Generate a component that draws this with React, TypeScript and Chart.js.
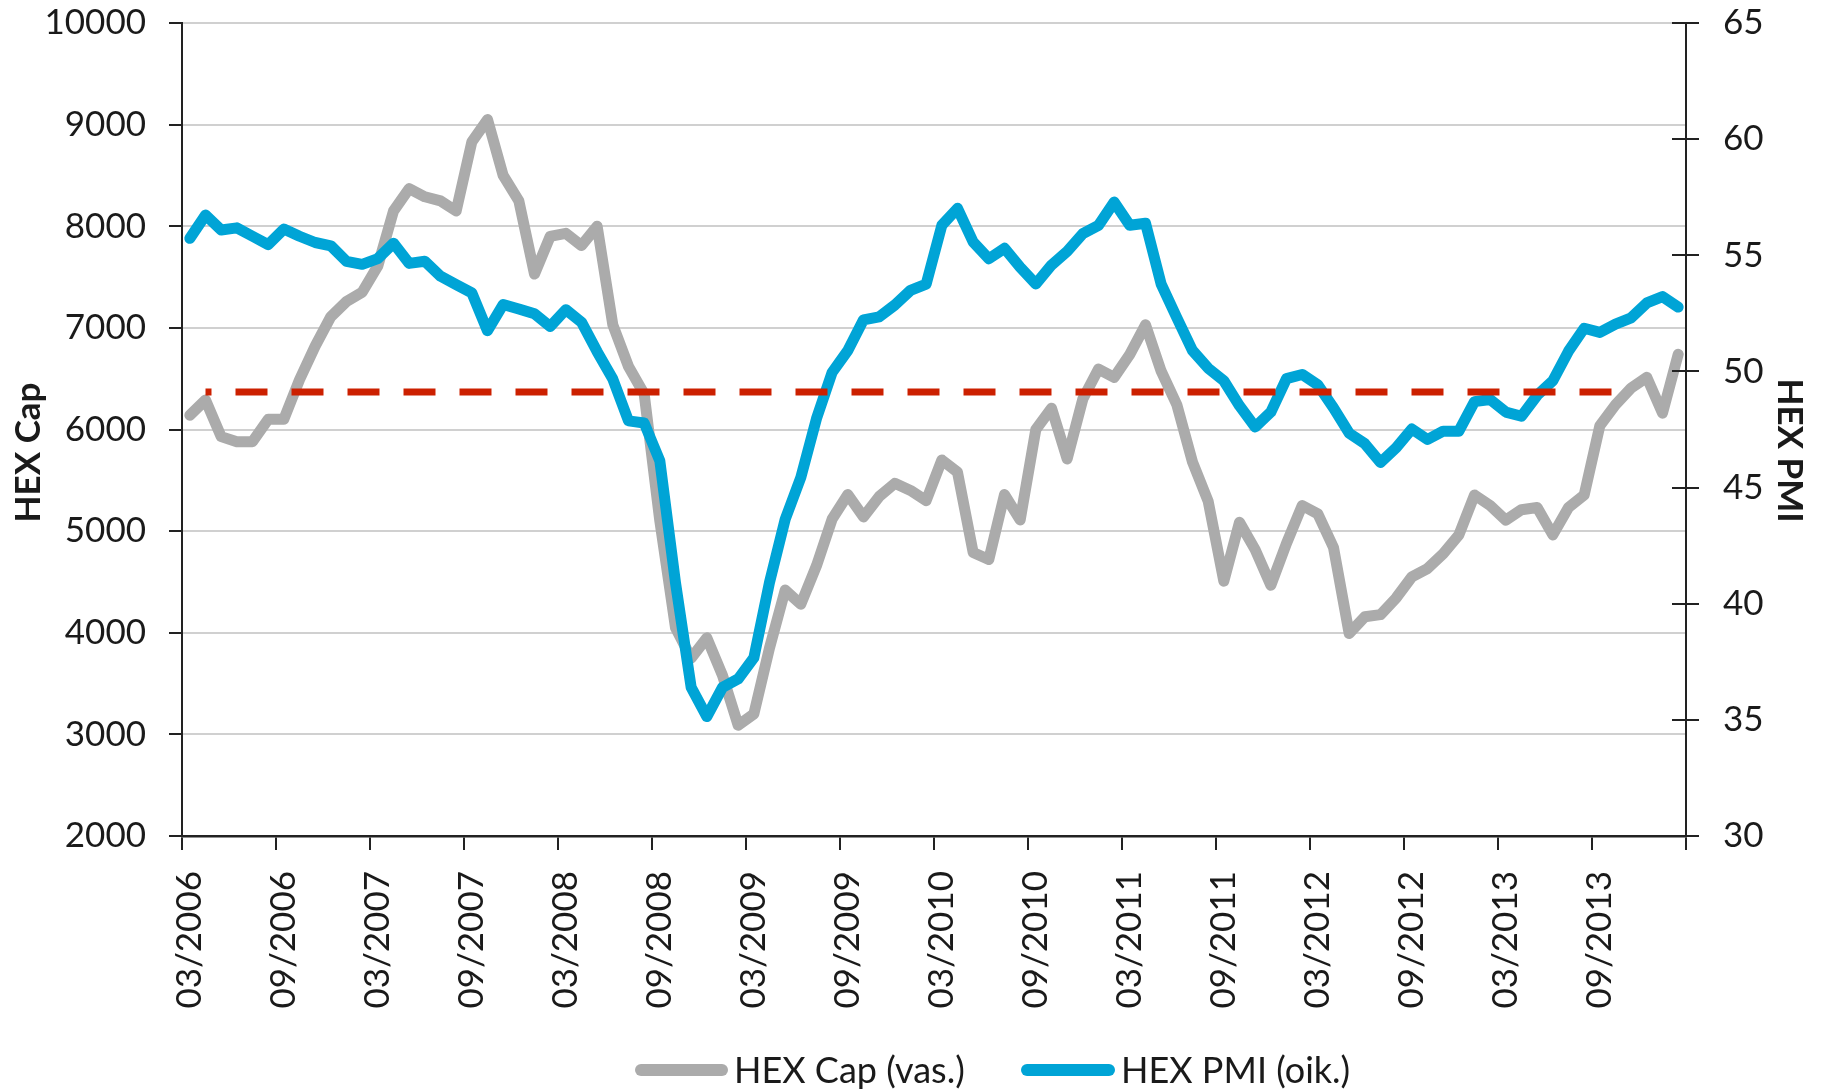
import React, { useEffect, useRef } from "react";
import { Chart, registerables } from "chart.js";

Chart.register(...registerables);

// Monthly categories 03/2006 .. 02/2014
const START_YEAR = 2006;
const START_MONTH = 3;
const N_MONTHS = 96;
const months: string[] = [];
for (let i = 0; i < N_MONTHS; i++) {
  const m = ((START_MONTH - 1 + i) % 12) + 1;
  const y = START_YEAR + Math.floor((START_MONTH - 1 + i) / 12);
  months.push(String(m).padStart(2, "0") + "/" + y);
}

const hexCap: number[] = [
  6140, 6290, 5930, 5880, 5880, 6100, 6100, 6490, 6820, 7110, 7260, 7350,
  7610, 8150, 8370, 8290, 8250, 8150, 8830, 9050, 8500, 8250, 7530, 7900,
  7930, 7810, 8000, 7030, 6620, 6350, 5100, 4050, 3750, 3950, 3580, 3090,
  3200, 3850, 4420, 4280, 4660, 5120, 5360, 5140, 5340, 5470, 5400, 5300,
  5700, 5580, 4790, 4720, 5360, 5110, 6000, 6210, 5710, 6300, 6595, 6513,
  6740, 7030, 6574, 6244, 5680, 5294, 4508, 5087, 4818, 4467, 4880, 5252,
  5170, 4839, 3992, 4157, 4178, 4343, 4550, 4632, 4777, 4963, 5356, 5252,
  5108, 5211, 5232, 4963, 5232, 5356, 6037, 6244, 6409, 6513, 6161, 6740,
];

const hexPmi: number[] = [
  55.73, 56.73, 56.09, 56.18, 55.82, 55.46, 56.13, 55.82, 55.55, 55.41, 54.74, 54.61,
  54.86, 55.52, 54.65, 54.74, 54.1, 53.74, 53.38, 51.75, 52.88, 52.69, 52.48, 51.93,
  52.66, 52.12, 50.85, 49.67, 47.87, 47.78, 46.15, 40.9, 36.4, 35.14, 36.4, 36.76,
  37.67, 40.92, 43.63, 45.44, 47.97, 49.96, 50.9, 52.22, 52.35, 52.86, 53.49, 53.76,
  56.29, 57.02, 55.57, 54.85, 55.3, 54.48, 53.76, 54.58, 55.17, 55.93, 56.29, 57.29,
  56.29, 56.38, 53.76, 52.31, 50.9, 50.14, 49.6, 48.52, 47.61, 48.25, 49.69, 49.87,
  49.42, 48.43, 47.34, 46.89, 46.08, 46.71, 47.52, 47.07, 47.43, 47.43, 48.7, 48.79,
  48.25, 48.07, 48.97, 49.6, 50.87, 51.86, 51.68, 52.04, 52.31, 52.95, 53.22, 52.77,
];

// Red dashed reference line (left axis units), spanning categories 1..91
const THRESHOLD = 6370;
const THRESHOLD_FROM = 1;
const THRESHOLD_TO = 91;
const threshold: (number | null)[] = months.map((_, i) =>
  i >= THRESHOLD_FROM && i <= THRESHOLD_TO ? THRESHOLD : null
);

const LEFT_TICKS = { min: 2000, max: 10000, step: 1000 };
const RIGHT_TICKS = { min: 30, max: 65, step: 5 };

const SERIES_NAMES = ["HEX Cap (vas.)", "HEX PMI (oik.)"];
const AXIS_TITLES = ["HEX Cap", "HEX PMI"];

const GRAY = "#ABABAB";
const BLUE = "#00A4D6";
const RED = "#CC2000";
const TEXT = "#1a1a1a";
const AXIS = "#222222";
const FONT = "Lato";
const FS = 35;

const W = 1821;
const H = 1091;

export default function App() {
  const ref = useRef<HTMLCanvasElement | null>(null);

  useEffect(() => {
    if (!ref.current) return;

    const extras = {
      id: "extras",
      afterDraw(chart: any) {
        const ctx = chart.ctx as CanvasRenderingContext2D;
        const area = chart.chartArea;
        const y2 = chart.scales.y2;
        // inner half of right-axis tick marks
        ctx.save();
        ctx.strokeStyle = AXIS;
        ctx.lineWidth = 2;
        y2.ticks.forEach((t: any) => {
          const py = Math.round(y2.getPixelForValue(t.value));
          ctx.beginPath();
          ctx.moveTo(area.right - 14, py);
          ctx.lineTo(area.right, py);
          ctx.stroke();
        });
        ctx.restore();

        // axis titles
        const midY = (area.top + area.bottom) / 2 + 23;
        ctx.save();
        ctx.fillStyle = TEXT;
        ctx.font = `bold ${FS}px ${FONT}`;
        ctx.textAlign = "center";
        ctx.textBaseline = "middle";
        ctx.translate(29, midY);
        ctx.rotate(-Math.PI / 2);
        ctx.fillText(AXIS_TITLES[0], 0, 0);
        ctx.restore();
        ctx.save();
        ctx.fillStyle = TEXT;
        ctx.font = `bold ${FS}px ${FONT}`;
        ctx.textAlign = "center";
        ctx.textBaseline = "middle";
        ctx.translate(1789, midY - 2);
        ctx.rotate(Math.PI / 2);
        ctx.fillText(AXIS_TITLES[1], 0, 0);
        ctx.restore();

        // legend
        const ly = 1070;
        const items = [
          { color: GRAY, x0: 641, x1: 722, tx: 734, label: SERIES_NAMES[0] },
          { color: BLUE, x0: 1027, x1: 1109, tx: 1121, label: SERIES_NAMES[1] },
        ];
        ctx.save();
        items.forEach((it) => {
          ctx.strokeStyle = it.color;
          ctx.lineWidth = 12;
          ctx.lineCap = "round";
          ctx.beginPath();
          ctx.moveTo(it.x0, ly);
          ctx.lineTo(it.x1, ly);
          ctx.stroke();
          ctx.fillStyle = TEXT;
          ctx.font = `${FS + 1}px ${FONT}`;
          ctx.textAlign = "left";
          ctx.textBaseline = "middle";
          ctx.fillText(it.label, it.tx, ly + 1);
        });
        ctx.restore();
      },
    };

    const chart = new Chart(ref.current, {
      type: "line",
      data: {
        labels: months,
        datasets: [
          {
            label: "threshold",
            data: threshold,
            yAxisID: "y",
            borderColor: RED,
            borderWidth: 7,
            borderDash: [32, 24],
            borderDashOffset: 26,
            borderCapStyle: "butt",
            pointRadius: 0,
            fill: false,
            spanGaps: false,
            order: 1,
          },
          {
            label: SERIES_NAMES[1],
            data: hexPmi,
            yAxisID: "y2",
            borderColor: BLUE,
            borderWidth: 11,
            borderCapStyle: "round",
            borderJoinStyle: "round",
            pointRadius: 0,
            tension: 0,
            fill: false,
            order: 2,
          },
          {
            label: SERIES_NAMES[0],
            data: hexCap,
            yAxisID: "y",
            borderColor: GRAY,
            borderWidth: 11,
            borderCapStyle: "round",
            borderJoinStyle: "round",
            pointRadius: 0,
            tension: 0,
            fill: false,
            order: 3,
          },
        ],
      },
      options: {
        responsive: false,
        animation: false,
        devicePixelRatio: 1,
        events: [],
        layout: { padding: { top: 23, left: 0, right: 0, bottom: 0 } },
        plugins: {
          legend: { display: false },
          tooltip: { enabled: false },
          title: { display: false },
        },
        scales: {
          x: {
            type: "category",
            offset: true,
            grid: {
              offset: true,
              drawOnChartArea: false,
              drawTicks: true,
              tickLength: 14,
              lineWidth: 2,
              color: (c: any) =>
                c.index === undefined || c.index % 6 === 0 ? AXIS : "rgba(0,0,0,0)",
            },
            border: { display: true, color: AXIS, width: 2.5 },
            ticks: {
              autoSkip: false,
              minRotation: 90,
              maxRotation: 90,
              padding: 21,
              color: TEXT,
              font: { family: FONT, size: FS },
              callback: (_v: any, i: number) => (i % 6 === 0 ? months[i] : ""),
            },
            afterFit: (s: any) => {
              s.height = H - 836;
            },
          },
          y: {
            type: "linear",
            position: "left",
            min: LEFT_TICKS.min,
            max: LEFT_TICKS.max,
            ticks: {
              stepSize: LEFT_TICKS.step,
              padding: 23,
              color: TEXT,
              font: { family: FONT, size: FS },
              callback: (v: any) => String(v),
            },
            grid: {
              color: "#D0D0D0",
              lineWidth: 2,
              tickColor: AXIS,
              tickLength: 13,
              drawTicks: true,
            },
            border: { display: true, color: AXIS, width: 2 },
            afterFit: (s: any) => {
              s.width = 182;
              s.paddingTop = 0;
              s.paddingBottom = 0;
            },
          },
          y2: {
            type: "linear",
            position: "right",
            min: RIGHT_TICKS.min,
            max: RIGHT_TICKS.max,
            ticks: {
              stepSize: RIGHT_TICKS.step,
              padding: 24,
              color: TEXT,
              font: { family: FONT, size: FS },
              callback: (v: any) => String(v),
            },
            grid: {
              drawOnChartArea: false,
              drawTicks: true,
              tickLength: 13,
              lineWidth: 2,
              color: AXIS,
            },
            border: { display: true, color: AXIS, width: 2 },
            afterFit: (s: any) => {
              s.width = 135;
              s.paddingTop = 0;
              s.paddingBottom = 0;
            },
          },
        },
      },
      plugins: [extras],
    } as any);

    return () => chart.destroy();
  }, []);

  return (
    <div style={{ position: "absolute", left: 0, top: 0, width: W, height: H, background: "#fff" }}>
      <canvas ref={ref} width={W} height={H} style={{ width: W, height: H, display: "block" }} />
    </div>
  );
}
